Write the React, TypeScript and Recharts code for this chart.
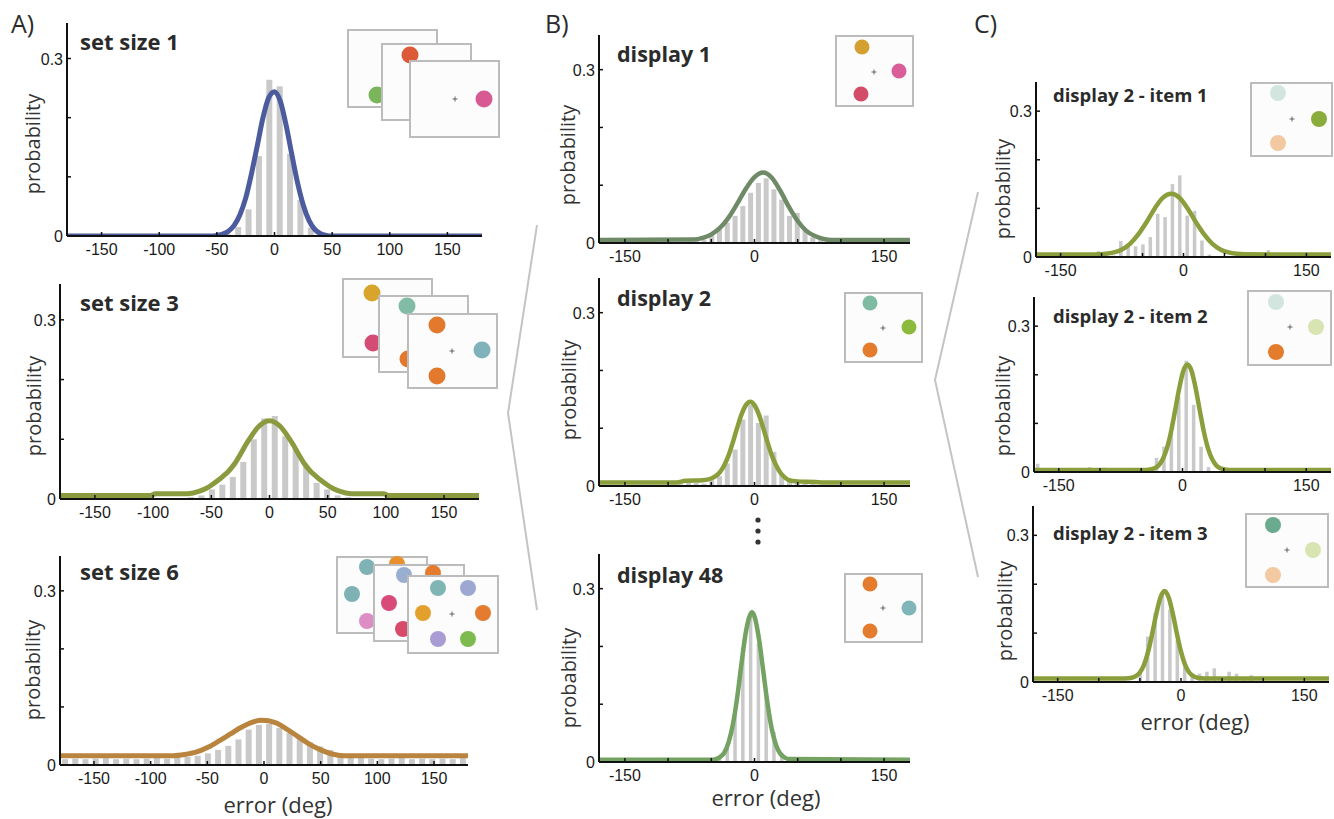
import React from "react";
import { ComposedChart, Bar, Line, XAxis, YAxis } from "recharts";

// histogram bin centres (9 deg bins)
const binCenters = [
  -175.5, -166.5, -157.5, -148.5, -139.5, -130.5, -121.5, -112.5, -103.5, -94.5,
  -85.5, -76.5, -67.5, -58.5, -49.5, -40.5, -31.5, -22.5, -13.5, -4.5,
  4.5, 13.5, 22.5, 31.5, 40.5, 49.5, 58.5, 67.5, 76.5, 85.5,
  94.5, 103.5, 112.5, 121.5, 130.5, 139.5, 148.5, 157.5, 166.5, 175.5,
];

const xTicks = [-150, -100, -50, 0, 50, 100, 150];
const xTicksShort = [-150, 0, 150];
const yTicks = [0, 0.1, 0.2, 0.3];
const yTickLabels = [0, 0.3];

// A) set size
const setSize1Bars = [
  0, 0, 0, 0, 0, 0, 0, 0, 0, 0,
  0, 0, 0, 0, 0, 0.003, 0.015, 0.045, 0.135, 0.264,
  0.253, 0.139, 0.061, 0.014, 0.003, 0, 0, 0, 0, 0,
  0, 0, 0, 0, 0, 0, 0, 0, 0, 0,
];
const setSize1Curve = [
  [-180, 0], [-55, 0], [-50, 0.001], [-45, 0.003], [-40, 0.008], [-35, 0.018], [-30, 0.036],
  [-25, 0.064], [-20, 0.105], [-15, 0.152], [-10, 0.2], [-5, 0.234], [0, 0.244], [5, 0.228],
  [10, 0.188], [15, 0.138], [20, 0.09], [25, 0.052], [30, 0.026], [35, 0.011], [40, 0.004],
  [45, 0.001], [50, 0], [180, 0],
];

const setSize3Bars = [
  0, 0, 0, 0, 0, 0, 0, 0, 0, 0,
  0, 0, 0.003, 0.006, 0.016, 0.024, 0.037, 0.062, 0.1, 0.135,
  0.139, 0.105, 0.083, 0.055, 0.027, 0.016, 0.006, 0.003, 0, 0,
  0, 0, 0, 0, 0, 0, 0, 0, 0, 0,
];
const setSize3Curve = [
  [-180, 0.006], [-102, 0.006], [-98, 0.009], [-70, 0.009], [-60, 0.013], [-55, 0.017],
  [-50, 0.023], [-45, 0.03], [-40, 0.038], [-35, 0.047], [-30, 0.059], [-25, 0.075],
  [-20, 0.092], [-15, 0.107], [-10, 0.12], [-5, 0.128], [0, 0.131], [5, 0.128], [10, 0.12],
  [15, 0.107], [20, 0.092], [25, 0.075], [30, 0.059], [35, 0.047], [40, 0.038], [45, 0.03],
  [50, 0.023], [55, 0.017], [60, 0.013], [70, 0.009], [98, 0.009], [102, 0.006], [180, 0.006],
];

const setSize6Bars = [
  0.01, 0.011, 0.01, 0.011, 0.012, 0.01, 0.011, 0.01, 0.011, 0.012,
  0.011, 0.013, 0.014, 0.016, 0.02, 0.026, 0.033, 0.044, 0.061, 0.069,
  0.071, 0.064, 0.055, 0.048, 0.039, 0.032, 0.026, 0.02, 0.015, 0.012,
  0.011, 0.01, 0.011, 0.012, 0.01, 0.011, 0.01, 0.011, 0.01, 0.012,
];
const setSize6Curve = [
  [-180, 0.016], [-80, 0.016], [-70, 0.018], [-60, 0.022], [-50, 0.03], [-40, 0.041],
  [-30, 0.053], [-20, 0.065], [-10, 0.074], [-2, 0.077], [10, 0.073], [20, 0.062],
  [30, 0.049], [40, 0.036], [50, 0.026], [60, 0.019], [70, 0.016], [180, 0.016],
];

// B) displays
const display1Bars = [
  0, 0, 0, 0, 0, 0, 0, 0, 0, 0,
  0, 0.003, 0.004, 0.006, 0.015, 0.023, 0.035, 0.047, 0.064, 0.087,
  0.104, 0.112, 0.093, 0.075, 0.047, 0.052, 0.023, 0.01, 0.005, 0.002,
  0, 0, 0, 0, 0, 0, 0, 0, 0, 0,
];
const display1Curve = [
  [-180, 0.005], [-70, 0.006], [-60, 0.009], [-50, 0.015], [-40, 0.026], [-30, 0.044],
  [-20, 0.068], [-10, 0.094], [0, 0.114], [10, 0.122], [20, 0.113], [30, 0.09], [40, 0.062],
  [50, 0.038], [60, 0.021], [70, 0.012], [80, 0.007], [90, 0.005], [180, 0.005],
];

const display2Bars = [
  0, 0, 0, 0, 0, 0, 0, 0, 0, 0.002,
  0.003, 0.008, 0.005, 0.004, 0.01, 0.017, 0.039, 0.063, 0.115, 0.141,
  0.109, 0.122, 0.059, 0.022, 0.009, 0.005, 0.004, 0.003, 0, 0,
  0, 0, 0, 0, 0, 0, 0, 0, 0, 0,
];
const display2Curve = [
  [-180, 0.006], [-90, 0.006], [-80, 0.009], [-60, 0.01], [-50, 0.013], [-45, 0.017],
  [-40, 0.024], [-35, 0.036], [-30, 0.053], [-25, 0.076], [-20, 0.101], [-15, 0.124],
  [-10, 0.14], [-5, 0.146], [0, 0.14], [5, 0.124], [10, 0.101], [15, 0.076], [20, 0.053],
  [25, 0.036], [30, 0.023], [35, 0.015], [40, 0.01], [50, 0.008], [70, 0.007], [80, 0.006],
  [180, 0.006],
];

const display48Bars = [
  0, 0, 0, 0, 0, 0, 0, 0, 0, 0,
  0, 0, 0, 0, 0.004, 0.009, 0.032, 0.09, 0.19, 0.252,
  0.205, 0.122, 0.052, 0.016, 0.006, 0, 0, 0, 0, 0,
  0, 0, 0, 0, 0, 0, 0, 0, 0, 0.004,
];
const display48Curve = [
  [-180, 0.004], [-50, 0.004], [-45, 0.005], [-40, 0.0085], [-35, 0.016], [-30, 0.034],
  [-25, 0.065], [-20, 0.112], [-15, 0.171], [-10, 0.225], [-5, 0.255], [-3, 0.259],
  [0, 0.252], [5, 0.215], [10, 0.159], [15, 0.102], [20, 0.057], [25, 0.029], [30, 0.014],
  [35, 0.0076], [40, 0.005], [180, 0.004],
];

// C) display 2, per item
const item1Bars = [
  0, 0, 0, 0, 0, 0, 0, 0, 0.012, 0.004,
  0.003, 0.033, 0.027, 0.022, 0.026, 0.041, 0.089, 0.082, 0.15, 0.168,
  0.085, 0.095, 0.034, 0.005, 0, 0, 0, 0, 0, 0,
  0, 0.014, 0, 0, 0, 0, 0, 0, 0, 0,
];
const item1Curve = [
  [-180, 0.005], [-110, 0.005], [-105, 0.0055], [-95, 0.0065], [-85, 0.0094], [-75, 0.0156],
  [-65, 0.0275], [-55, 0.047], [-45, 0.072], [-35, 0.1], [-25, 0.122], [-15, 0.13],
  [-5, 0.122], [5, 0.1], [15, 0.072], [25, 0.047], [35, 0.0275], [45, 0.0156], [55, 0.0094],
  [65, 0.0065], [75, 0.0055], [180, 0.005],
];

const item2Bars = [
  0.017, 0, 0.003, 0, 0, 0, 0, 0.01, 0, 0.009,
  0, 0, 0, 0, 0, 0, 0.029, 0.052, 0.083, 0.155,
  0.229, 0.138, 0.052, 0.01, 0, 0, 0, 0, 0, 0,
  0, 0, 0, 0, 0, 0, 0, 0, 0, 0,
];
const item2Curve = [
  [-180, 0.004], [-44, 0.004], [-39, 0.005], [-34, 0.0077], [-29, 0.0135], [-24, 0.026],
  [-19, 0.048], [-14, 0.082], [-9, 0.126], [-4, 0.172], [1, 0.208], [6, 0.221], [11, 0.208],
  [16, 0.172], [21, 0.126], [26, 0.082], [31, 0.048], [36, 0.026], [41, 0.0135], [46, 0.0077],
  [51, 0.005], [56, 0.004], [180, 0.004],
];

const item3Bars = [
  0, 0, 0, 0, 0, 0, 0, 0, 0, 0,
  0, 0, 0, 0, 0.024, 0.093, 0.141, 0.179, 0.148, 0.086,
  0.031, 0.014, 0.017, 0.021, 0.028, 0.01, 0.021, 0.017, 0.008, 0.014,
  0, 0, 0, 0, 0, 0, 0, 0, 0, 0,
];
const item3Curve = [
  [-180, 0.007], [-70, 0.007], [-65, 0.0075], [-60, 0.0086], [-55, 0.012], [-50, 0.0195],
  [-45, 0.035], [-40, 0.062], [-35, 0.099], [-30, 0.14], [-25, 0.173], [-20, 0.186],
  [-15, 0.173], [-10, 0.14], [-5, 0.099], [0, 0.062], [5, 0.035], [10, 0.0195], [15, 0.012],
  [20, 0.0086], [25, 0.0075], [30, 0.007], [180, 0.007],
];

const FONT = "'Open Sans', 'Noto Sans', sans-serif";
const TICK_FONT = "'Liberation Sans', Arial, sans-serif";

function buildTable(bars: number[], curve: number[][]) {
  const rows: { x: number; p?: number; c?: number }[] = [];
  binCenters.forEach((x, i) => rows.push({ x, p: bars[i] }));
  curve.forEach(([x, c]) => rows.push({ x, c }));
  return rows.sort((a, b) => a.x - b.x);
}

function XTick(props: any) {
  const { x, y, payload, labels } = props;
  const v = payload.value;
  return (
    <g>
      <line x1={x} x2={x} y1={y - 1} y2={y - 4} stroke="#111" strokeWidth={1.5} />
      {labels.includes(v) && (
        <text x={x} y={y + 19} textAnchor="middle" fontSize={16} fontFamily={TICK_FONT} fill="#1a1a1a">
          {String(v)}
        </text>
      )}
    </g>
  );
}

function YTick(props: any) {
  const { x, y, payload } = props;
  const v = payload.value;
  return (
    <g>
      {v > 0 && <line x1={x + 1} x2={x + 4} y1={y} y2={y} stroke="#111" strokeWidth={1.5} />}
      {yTickLabels.includes(v) && (
        <text x={x - 4} y={y + 6} textAnchor="end" fontSize={16} fontFamily={TICK_FONT} fill="#1a1a1a">
          {String(v)}
        </text>
      )}
    </g>
  );
}

interface PanelProps {
  left: number;
  right: number;
  top: number;
  bottom: number;
  bars: number[];
  curve: number[][];
  color: string;
  lw: number;
  bw: number;
  labels: number[];
}

function Panel({ left, right, top, bottom, bars, curve, color, lw, bw, labels }: PanelProps) {
  const yw = 44, mt = 6, mr = 6, xh = 30;
  const table = buildTable(bars, curve);
  return (
    <div style={{ position: "absolute", left: left - yw, top: top - mt }}>
      <ComposedChart
        width={yw + (right - left) + mr}
        height={mt + (bottom - top) + xh}
        data={table}
        margin={{ top: mt, right: mr, bottom: 0, left: 0 }}
      >
        <XAxis
          dataKey="x"
          type="number"
          domain={[-180, 180]}
          ticks={xTicks}
          interval={0}
          allowDataOverflow
          height={xh}
          tickSize={0}
          tickMargin={0}
          tickLine={false}
          axisLine={{ stroke: "#111", strokeWidth: 2 }}
          tick={<XTick labels={labels} />}
        />
        <YAxis
          type="number"
          domain={[0, 0.36]}
          ticks={yTicks}
          interval={0}
          allowDataOverflow
          width={yw}
          tickSize={0}
          tickMargin={0}
          tickLine={false}
          axisLine={{ stroke: "#111", strokeWidth: 2 }}
          tick={<YTick />}
        />
        <Bar
          dataKey="p"
          isAnimationActive={false}
          shape={(p: any) => {
            if (!(p.height > 0)) return <g />;
            const cx = p.x + p.width / 2;
            return <rect x={cx - bw / 2} y={p.y} width={bw} height={p.height} fill="#c9c9c9" />;
          }}
        />
        <Line
          dataKey="c"
          type="monotone"
          stroke={color}
          strokeWidth={lw}
          dot={false}
          activeDot={false}
          connectNulls
          isAnimationActive={false}
          strokeLinejoin="round"
          strokeLinecap="round"
        />
      </ComposedChart>
    </div>
  );
}

const panels: PanelProps[] = [
  { left: 67, right: 482, top: 23, bottom: 236, bars: setSize1Bars, curve: setSize1Curve, color: "#4b5b9d", lw: 5, bw: 6, labels: xTicks },
  { left: 60, right: 479, top: 284, bottom: 499, bars: setSize3Bars, curve: setSize3Curve, color: "#8a9b3f", lw: 5, bw: 6, labels: xTicks },
  { left: 60, right: 468, top: 556, bottom: 765, bars: setSize6Bars, curve: setSize6Curve, color: "#b8843e", lw: 5, bw: 6, labels: xTicks },
  { left: 599, right: 910, top: 35, bottom: 243, bars: display1Bars, curve: display1Curve, color: "#6f8a67", lw: 4.5, bw: 5, labels: xTicksShort },
  { left: 599, right: 910, top: 278, bottom: 486, bars: display2Bars, curve: display2Curve, color: "#8a9e3c", lw: 4.5, bw: 5, labels: xTicksShort },
  { left: 599, right: 910, top: 554, bottom: 762, bars: display48Bars, curve: display48Curve, color: "#74a262", lw: 4.5, bw: 3.5, labels: xTicksShort },
  { left: 1036, right: 1331, top: 82, bottom: 257, bars: item1Bars, curve: item1Curve, color: "#8a9e3c", lw: 4.5, bw: 3.5, labels: xTicksShort },
  { left: 1034, right: 1331, top: 297, bottom: 472, bars: item2Bars, curve: item2Curve, color: "#8a9e3c", lw: 4.5, bw: 3.5, labels: xTicksShort },
  { left: 1033, right: 1329, top: 506, bottom: 682, bars: item3Bars, curve: item3Curve, color: "#8a9e3c", lw: 4.5, bw: 3.5, labels: xTicksShort },
];

const titles: [string, number, number, number][] = [
  ["set size 1", 80, 50, 22],
  ["set size 3", 80, 311, 22],
  ["set size 6", 80, 580, 22],
  ["display 1", 617, 62, 21.5],
  ["display 2", 617, 306, 21.5],
  ["display 48", 617, 583, 21.5],
  ["display 2 - item 1", 1053, 102, 18.5],
  ["display 2 - item 2", 1053, 323, 18.5],
  ["display 2 - item 3", 1053, 540, 18.5],
];

const probLabels: [number, number][] = [
  [33, 144], [34, 406], [33, 670],
  [568, 155], [569, 390], [569, 678],
  [1003, 189], [1003, 406], [1005, 611],
];

const errorLabels: [number, number][] = [
  [278, 813], [766, 806], [1195, 730],
];

type Inset = { x: number; y: number; w: number; h: number; r: number; items: [number, number, string][]; cross: [number, number] };

const insets: Inset[] = [
  // A set size 1
  { x: 347, y: 29, w: 91, h: 79, r: 8.5, items: [[30, 66, "#7ab55c"]], cross: [45, 39] },
  { x: 381, y: 43, w: 91, h: 78, r: 8.5, items: [[29, 12, "#dc5a38"]], cross: [45, 39] },
  { x: 409, y: 60, w: 91, h: 78, r: 8.5, items: [[75, 39, "#d85a92"]], cross: [46, 39] },
  // A set size 3
  { x: 342, y: 278, w: 91, h: 80, r: 8.5, items: [[30, 15, "#d8a42c"], [31, 65, "#d24c74"]], cross: [45, 40] },
  { x: 378, y: 295, w: 91, h: 78, r: 8.5, items: [[29, 11, "#80bca6"], [30, 64, "#e2792c"]], cross: [45, 38] },
  { x: 407, y: 313, w: 91, h: 76, r: 8.5, items: [[30, 12, "#e2792c"], [75, 37, "#80b2bc"], [30, 63, "#e2792c"]], cross: [45, 38] },
  // A set size 6
  { x: 336, y: 556, w: 92, h: 78, r: 8, items: [[31, 11, "#7fb2b4"], [61, 8, "#e8902e"], [16, 38, "#7fb2b4"], [31, 65, "#dc8ec4"]], cross: [46, 38] },
  { x: 373, y: 564, w: 92, h: 78, r: 8, items: [[31, 11, "#9aaecf"], [60, 9, "#e37c2e"], [16, 39, "#d84a78"], [30, 65, "#d84a6a"]], cross: [46, 38] },
  { x: 407, y: 575, w: 92, h: 79, r: 8, items: [[31, 13, "#7fb5b3"], [61, 13, "#9ca8d2"], [16, 38, "#e4a02c"], [76, 38, "#e37c2e"], [31, 64, "#a99cd4"], [61, 64, "#7dbb4e"]], cross: [45, 39] },
  // B
  { x: 835, y: 35, w: 79, h: 72, r: 7.5, items: [[27, 12, "#d4a030"], [64, 36, "#da5e9a"], [26, 59, "#d24c6a"]], cross: [39, 37] },
  { x: 844, y: 292, w: 79, h: 71, r: 7.5, items: [[26, 11, "#7fbaa2"], [65, 35, "#8cba3c"], [26, 58, "#e37c2c"]], cross: [39, 36] },
  { x: 844, y: 573, w: 79, h: 70, r: 7.5, items: [[26, 11, "#e37c2c"], [65, 35, "#80b6ba"], [26, 58, "#e37c2c"]], cross: [39, 35] },
  // C
  { x: 1250, y: 82, w: 83, h: 75, r: 8, items: [[28, 11, "#d2e5de"], [69, 37, "#8aac3a"], [28, 61, "#f3c9a2"]], cross: [42, 37] },
  { x: 1247, y: 290, w: 85, h: 76, r: 8, items: [[29, 12, "#d2e5de"], [69, 37, "#d8e4b2"], [29, 62, "#e37c2c"]], cross: [43, 37] },
  { x: 1245, y: 513, w: 84, h: 75, r: 8, items: [[28, 12, "#6aab90"], [68, 37, "#d8e4b2"], [28, 62, "#f3c9a2"]], cross: [42, 37] },
];

function Overlay() {
  return (
    <svg width={1334} height={819} style={{ position: "absolute", left: 0, top: 0 }}>
      <polyline points="537,225 508,413 537,610" fill="none" stroke="#c4c4c4" strokeWidth={2} />
      <polyline points="978,192 935,380 978,577" fill="none" stroke="#c4c4c4" strokeWidth={2} />

      <text x={11} y={33} fontSize={25} fontFamily={FONT} fill="#2b2b2b">A)</text>
      <text x={545} y={33} fontSize={25} fontFamily={FONT} fill="#2b2b2b">B)</text>
      <text x={974} y={33} fontSize={25} fontFamily={FONT} fill="#2b2b2b">C)</text>

      {titles.map(([t, x, y, s]) => (
        <text key={t} x={x} y={y} fontSize={s} fontWeight={700} fontFamily={FONT} fill="#2b2b2b">{t}</text>
      ))}
      {probLabels.map(([x, y], i) => (
        <text key={i} transform={`translate(${x},${y}) rotate(-90)`} textAnchor="middle" dy="0.35em" fontSize={20} fontFamily={FONT} fill="#333">
          probability
        </text>
      ))}
      {errorLabels.map(([x, y], i) => (
        <text key={i} x={x} y={y} textAnchor="middle" fontSize={22} fontFamily={FONT} fill="#333">error (deg)</text>
      ))}

      <circle cx={758} cy={520} r={2.6} fill="#333" />
      <circle cx={758} cy={531} r={2.6} fill="#333" />
      <circle cx={758} cy={542} r={2.6} fill="#333" />

      {insets.map((f, i) => (
        <g key={i}>
          <rect x={f.x + 1} y={f.y + 1} width={f.w - 2} height={f.h - 2} fill="#fcfcfc" stroke="#bcbcbc" strokeWidth={2} />
          {f.items.map(([cx, cy, col], j) => (
            <circle key={j} cx={f.x + cx} cy={f.y + cy} r={f.r} fill={col} />
          ))}
          <path
            d={`M${f.x + f.cross[0] - 2.5},${f.y + f.cross[1]}h5M${f.x + f.cross[0]},${f.y + f.cross[1] - 2.5}v5`}
            stroke="#444"
            strokeWidth={0.8}
          />
        </g>
      ))}
    </svg>
  );
}

export default function App() {
  return (
    <div style={{ position: "absolute", left: 0, top: 0, width: 1334, height: 819, background: "#fff", overflow: "hidden" }}>
      {panels.map((p, i) => (
        <Panel key={i} {...p} />
      ))}
      <Overlay />
    </div>
  );
}
